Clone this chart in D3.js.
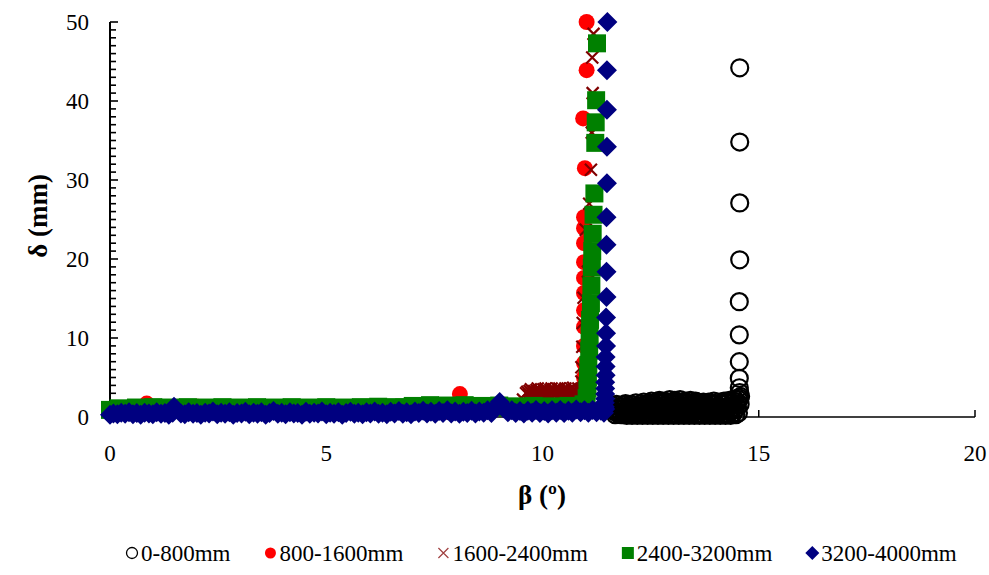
<!DOCTYPE html>
<html><head><meta charset="utf-8">
<script src="https://cdn.jsdelivr.net/npm/d3@7"></script>
<style>
html,body{margin:0;padding:0;background:#fff;}
svg{display:block;}
</style></head>
<body>
<svg id="chart" width="989" height="575"></svg>
<script>
// ---------- data ----------
const seriesNames = ["0-800mm", "800-1600mm", "1600-2400mm", "2400-3200mm", "3200-4000mm"];
const xTicks = [0, 5, 10, 15, 20];
const yTicks = [0, 10, 20, 30, 40, 50];
const xTitle = "β (º)";
const yTitle = "δ (mm)";

// 0-800mm  [β, δ]
const s0_800 = [
 [11.62,0.9],[11.66,0.7],[11.70,1.1],[11.73,0.6],[11.77,0.9],[11.80,0.5],[11.84,1.0],[11.87,0.7],[11.90,1.2],[11.93,0.5],
 [11.96,0.9],[11.99,0.6],[12.02,1.1],[12.05,0.8],[12.08,0.4],[12.11,1.0],[12.14,0.7],[12.17,1.3],[12.20,0.6],[12.23,0.9],
 [12.26,0.5],[12.29,1.2],[12.32,0.8],[12.35,1.5],[12.38,0.6],[12.41,1.0],[12.44,0.4],[12.47,1.3],[12.50,0.9],[12.53,1.6],
 [12.56,0.7],[12.59,1.1],[12.62,0.5],[12.65,1.4],[12.68,0.9],[12.71,1.7],[12.74,0.6],[12.77,1.2],[12.80,0.8],[12.83,1.5],
 [12.86,0.5],[12.89,1.1],[12.92,1.8],[12.95,0.7],[12.98,1.3],[13.01,0.9],[13.04,1.6],[13.07,0.5],[13.10,1.2],[13.13,0.8],
 [13.16,1.9],[13.19,0.6],[13.22,1.4],[13.25,1.0],[13.28,1.7],[13.31,0.5],[13.34,1.2],[13.37,0.8],[13.40,1.5],[13.43,0.6],
 [13.46,1.1],[13.49,1.8],[13.52,0.7],[13.55,1.3],[13.58,0.9],[13.61,1.6],[13.64,0.5],[13.67,1.2],[13.70,0.8],[13.73,1.4],
 [13.76,0.6],[13.79,1.0],[13.82,1.5],[13.85,0.7],[13.88,1.2],[13.91,0.9],[13.94,1.6],[13.97,0.5],[14.00,1.1],[14.03,0.8],
 [14.06,1.4],[14.09,0.6],[14.12,1.2],[14.15,0.9],[14.18,1.7],[14.21,0.7],[14.24,1.3],[14.27,1.0],[14.30,1.8],[14.33,0.8],
 [14.36,1.4],[14.39,1.1],[14.42,2.0],[14.45,0.9],[14.48,1.5],[14.51,1.2],[14.54,2.2],[14.57,1.6],
 [11.64,1.4],[11.68,0.3],[11.71,1.6],[11.75,0.4],[11.79,1.3],[11.82,0.3],[11.86,1.5],[11.89,0.3],[11.92,1.7],[11.95,0.2],
 [11.98,1.4],[12.01,0.3],[12.04,1.6],[12.07,0.2],[12.10,1.5],[12.13,0.3],[12.16,1.8],[12.19,0.2],[12.22,1.4],[12.25,0.3],
 [12.28,1.7],[12.31,0.2],[12.34,1.9],[12.37,0.3],[12.40,1.6],[12.43,0.2],[12.46,1.8],[12.49,0.3],[12.52,2.0],[12.55,0.2],
 [12.58,1.7],[12.61,0.3],[12.64,1.9],[12.67,0.2],[12.70,2.1],[12.73,0.3],[12.76,1.8],[12.79,0.2],[12.82,2.0],[12.85,0.3],
 [12.88,1.7],[12.91,0.2],[12.94,2.2],[12.97,0.3],[13.00,1.9],[13.03,0.2],[13.06,2.1],[13.09,0.3],[13.12,1.8],[13.15,0.2],
 [13.18,2.2],[13.21,0.3],[13.24,1.9],[13.27,0.2],[13.30,2.0],[13.33,0.3],[13.36,1.8],[13.39,0.2],[13.42,2.1],[13.45,0.3],
 [13.48,1.7],[13.51,0.2],[13.54,2.0],[13.57,0.3],[13.60,1.9],[13.63,0.2],[13.66,1.7],[13.69,0.3],[13.72,1.9],[13.75,0.2],
 [13.78,1.6],[13.81,0.3],[13.84,1.9],[13.87,0.2],[13.90,1.7],[13.93,0.3],[13.96,2.0],[13.99,0.2],[14.02,1.6],[14.05,0.3],
 [14.08,1.9],[14.11,0.2],[14.14,1.7],[14.17,0.3],[14.20,2.0],[14.23,0.2],[14.26,1.8],[14.29,0.3],[14.32,2.1],[14.35,0.2],
 [14.38,1.8],[14.41,0.4],[14.44,2.3],[14.47,0.3],[14.50,1.9],[14.53,0.5],[14.56,2.4],
 [14.58,2.6],[14.56,3.1],[14.55,3.7],[14.55,4.9],[14.55,7.0],[14.55,10.4],[14.55,14.6],[14.56,19.9],[14.56,27.1],
 [14.56,34.8],[14.56,44.2]
];
// 800-1600mm
const s800_1600 = [
 [0.00,0.5],[0.40,0.7],[0.85,1.7],[1.30,0.6],[2.03,1.3],[2.60,0.7],[3.20,0.5],[3.92,1.2],[4.50,0.6],[5.10,0.8],
 [5.80,1.2],[6.50,0.7],[7.20,0.9],[7.70,0.6],[8.09,2.9],[8.60,0.8],[9.20,1.0],[9.80,0.9],[10.40,1.1],[10.80,1.3],
 [10.96,2.0],[10.96,3.4],[10.96,5.0],[10.96,6.8],[10.96,9.0],[10.96,11.4],[10.96,13.5],[10.96,15.7],[10.96,17.6],
 [10.96,19.6],[10.96,22.0],[10.96,23.9],[10.96,25.3],[10.98,31.5],[10.94,37.8],[11.02,43.9],[11.02,50.0]
];
// 1600-2400mm
const s1600_2400 = [
 [0.30,0.6],[1.00,0.8],[1.60,0.5],[2.40,0.9],[3.10,0.6],[3.80,0.8],[4.92,1.2],[5.60,0.7],[6.30,0.9],[7.00,0.6],
 [7.80,1.0],[8.50,0.8],[9.10,1.1],[9.55,2.2],[9.62,3.0],[9.70,3.3],[9.78,2.9],[9.86,3.4],[9.94,3.1],[10.02,3.5],
 [10.10,3.0],[10.18,3.4],[10.26,3.2],[10.34,3.6],[10.42,3.1],[10.50,3.4],[10.58,3.3],[10.66,3.6],[10.74,3.2],[10.80,3.0],
 [10.88,3.3],
 [9.65,3.2],[9.68,2.8],[9.73,3.5],[9.75,3.0],[9.81,3.3],[9.83,2.8],[9.89,3.6],[9.91,3.0],[9.97,3.3],[9.99,2.9],
 [10.05,3.2],[10.07,3.6],[10.13,3.3],[10.15,2.8],[10.21,3.6],[10.23,3.0],[10.29,3.4],[10.31,2.9],[10.37,3.2],[10.39,3.6],
 [10.45,3.3],[10.47,2.9],[10.53,3.6],[10.55,3.0],[10.61,3.4],[10.63,2.9],[10.69,3.3],[10.71,3.7],[10.77,3.3],[10.83,3.6],
 [10.90,4.5],[10.90,6.3],[10.92,8.9],[10.93,11.9],[10.95,15.1],[11.05,18.4],[11.00,23.7],[11.08,27.0],
 [11.12,31.3],[11.14,36.0],[11.16,41.0],[11.15,45.5],[11.18,48.5]
];
// 2400-3200mm
const s2400_3200 = [
 [0.00,0.90],[0.20,1.10],[0.40,1.00],[0.60,1.20],[0.80,1.05],[1.00,1.25],[1.20,0.95],[1.40,1.20],[1.60,1.10],[1.80,1.25],
 [2.00,1.00],[2.20,1.20],[2.40,1.10],[2.60,1.25],[2.80,0.95],[3.00,1.20],[3.20,1.10],[3.40,1.25],[3.60,1.00],[3.80,1.20],
 [4.00,1.05],[4.20,1.25],[4.40,1.10],[4.60,1.20],[4.80,0.95],[5.00,1.25],[5.20,1.10],[5.40,1.20],[5.60,1.05],[5.80,1.25],
 [6.00,1.15],[6.20,1.30],[6.40,1.10],[6.60,1.25],[6.80,1.20],[7.00,1.40],[7.20,1.30],[7.40,1.50],[7.60,1.35],[7.80,1.45],
 [8.00,1.30],[8.20,1.50],[8.40,1.25],[8.60,1.40],[8.80,1.30],[9.00,1.45],[9.20,1.20],[9.40,1.35],[9.60,1.25],[9.80,1.40],
 [10.00,1.20],[10.20,1.35],[10.40,1.25],[10.60,1.40],[10.80,1.30],[10.95,1.60],
 [11.02,2.4],[11.04,3.6],[11.05,5.0],[11.06,6.6],[11.08,8.4],[11.09,10.3],[11.10,12.3],[11.12,14.4],[11.13,16.6],
 [11.14,18.9],[11.15,21.0],[11.16,23.2],[11.18,25.6],[11.20,28.3],[11.22,34.7],[11.23,37.3],[11.24,40.1],[11.26,47.3]
];
// 3200-4000mm
const s3200_4000 = [
 [0.00,0.30],[0.08,0.45],[0.17,0.35],[0.26,0.55],[0.35,0.40],[0.44,0.60],[0.53,0.35],[0.62,0.50],[0.71,0.30],[0.80,0.55],
 [0.90,0.45],[0.99,0.35],[1.08,0.60],[1.18,0.40],[1.27,0.50],[1.36,0.30],[1.45,0.55],[1.48,1.30],[1.64,0.45],[1.73,0.35],
 [1.82,0.60],[1.92,0.40],[2.01,0.50],[2.10,0.30],[2.20,0.55],[2.29,0.45],[2.38,0.70],[2.48,0.35],[2.57,0.55],[2.66,0.40],
 [2.76,0.60],[2.85,0.30],[2.94,0.50],[3.04,0.45],[3.13,0.65],[3.22,0.35],[3.32,0.55],[3.41,0.40],[3.50,0.60],[3.60,0.30],
 [3.69,0.50],[3.78,0.75],[3.88,0.40],[3.97,0.55],[4.06,0.35],[4.16,0.60],[4.25,0.45],[4.34,0.50],[4.44,0.30],[4.53,0.65],
 [4.62,0.40],[4.72,0.55],[4.81,0.45],[4.90,0.70],[5.00,0.35],[5.09,0.55],[5.18,0.40],[5.28,0.60],[5.37,0.30],[5.46,0.50],
 [5.56,0.65],[5.65,0.40],[5.74,0.55],[5.84,0.35],[5.93,0.60],[6.02,0.45],[6.12,0.70],[6.21,0.40],[6.30,0.55],[6.40,0.35],
 [6.49,0.65],[6.58,0.45],[6.68,0.75],[6.77,0.40],[6.86,0.60],[6.96,0.35],[7.05,0.70],[7.14,0.50],[7.24,0.80],[7.33,0.45],
 [7.42,0.65],[7.52,0.40],[7.61,0.75],[7.70,0.50],[7.80,0.85],[7.89,0.45],[7.98,0.70],[8.08,0.40],[8.17,0.65],[8.26,0.50],
 [8.36,0.80],[8.45,0.45],[8.54,0.70],[8.64,0.55],[8.73,0.85],[8.82,0.50],[8.92,1.20],[9.01,1.90],[9.10,1.10],[9.20,0.60],
 [9.29,0.85],[9.38,0.50],[9.48,0.75],[9.57,0.45],[9.66,0.80],[9.76,0.55],[9.85,0.90],[9.94,0.50],[10.04,0.75],[10.13,0.45],
 [10.22,0.85],[10.32,0.55],[10.41,0.90],[10.50,0.50],[10.60,0.80],[10.69,0.55],[10.78,0.95],[10.88,0.60],[10.97,0.85],
 [11.06,0.55],[11.16,0.90],[11.25,0.60],[11.35,0.80],[11.42,0.55],[11.45,1.00],
 [11.44,1.3],[11.44,1.8],[11.45,2.3],[11.45,2.9],[11.45,3.6],[11.45,4.4],[11.46,5.3],[11.46,6.4],[11.46,7.6],[11.47,9.0],
 [11.47,10.6],[11.47,12.6],[11.48,15.2],[11.48,18.4],[11.48,21.8],[11.48,25.3],[11.49,29.6],[11.49,34.2],[11.49,38.9],
 [11.49,43.9],[11.50,50.0]
];

const seriesData = [s0_800, s800_1600, s1600_2400, s2400_3200, s3200_4000];
const seriesColors = ["#000000", "#ff0000", "#800000", "#008000", "#000080"];
const seriesShapes = ["ocircle", "circle", "cross", "square", "diamond"];

const FONT = "'Liberation Serif', 'Times New Roman', 'DejaVu Serif', serif";

// ---------- layout ----------
const svg = d3.select("#chart").attr("font-family", FONT);
const x = d3.scaleLinear().domain([0, 20]).range([110, 975]);
const y = d3.scaleLinear().domain([0, 50]).range([417, 22]);

function markerPath(shape, s) {
  const p = d3.path();
  if (shape === "circle" || shape === "ocircle") {
    p.arc(0, 0, s, 0, 2 * Math.PI);
  } else if (shape === "square") {
    p.rect(-s, -s, 2 * s, 2 * s);
  } else if (shape === "diamond") {
    p.moveTo(0, -s); p.lineTo(s, 0); p.lineTo(0, s); p.lineTo(-s, 0); p.closePath();
  } else if (shape === "cross") {
    p.moveTo(-s, -s); p.lineTo(s, s); p.moveTo(-s, s); p.lineTo(s, -s);
  }
  return p.toString();
}
function styleMarker(sel, shape, color) {
  if (shape === "ocircle") sel.attr("fill", "none").attr("stroke", color).attr("stroke-width", 2.2);
  else if (shape === "cross") sel.attr("fill", "none").attr("stroke", color).attr("stroke-width", 2.2);
  else sel.attr("fill", color).attr("stroke", "none");
}
const markerSize = {ocircle: 8.5, circle: 8, cross: 6, square: 9, diamond: 10};

// axes
const axes = svg.append("g");
axes.append("line").attr("x1", x(0)).attr("x2", x(0)).attr("y1", y(0)).attr("y2", y(50))
  .attr("stroke", "#000").attr("stroke-width", 2);
axes.append("line").attr("x1", x(0)).attr("x2", x(20)).attr("y1", y(0)).attr("y2", y(0))
  .attr("stroke", "#000").attr("stroke-width", 1.5);
const yMinor = d3.range(0, 51, 1);
axes.selectAll(".ymin").data(yMinor).enter().append("line")
  .attr("x1", x(0)).attr("x2", d => x(0) + (d % 10 === 0 ? 8 : 6))
  .attr("y1", d => y(d)).attr("y2", d => y(d))
  .attr("stroke", "#000").attr("stroke-width", 1.6);
axes.selectAll(".xt").data(xTicks.slice(1)).enter().append("line")
  .attr("x1", d => x(d)).attr("x2", d => x(d)).attr("y1", y(0)).attr("y2", y(0) - 7)
  .attr("stroke", "#000").attr("stroke-width", 1.5);

// tick labels
svg.append("g").selectAll("text").data(yTicks).enter().append("text")
  .attr("x", 89).attr("y", d => y(d)).attr("dy", "0.35em").attr("text-anchor", "end")
  .attr("font-size", 23).text(d => d);
svg.append("g").selectAll("text").data(xTicks).enter().append("text")
  .attr("x", d => x(d)).attr("y", 453).attr("dy", "0.35em").attr("text-anchor", "middle")
  .attr("font-size", 23).text(d => d);

// titles
svg.append("text").attr("transform", "translate(38,216) rotate(-90)")
  .attr("text-anchor", "middle").attr("dy", "0.35em")
  .attr("font-size", 27).attr("font-weight", "bold").text(yTitle);
svg.append("text").attr("x", 542).attr("y", 495).attr("dy", "0.35em")
  .attr("text-anchor", "middle").attr("font-size", 27).attr("font-weight", "bold").text(xTitle);

// series
seriesData.forEach((data, i) => {
  const shape = seriesShapes[i];
  const g = svg.append("g");
  const sel = g.selectAll("path").data(data).enter().append("path")
    .attr("d", markerPath(shape, markerSize[shape]))
    .attr("transform", d => `translate(${x(d[0])},${y(d[1])})`);
  styleMarker(sel, shape, seriesColors[i]);
});

// legend
const leg = svg.append("g");
let lx = 126;
const ly = 553;
const legSize = {ocircle: 5.5, circle: 5.5, cross: 5, square: 6, diamond: 7};
seriesNames.forEach((name, i) => {
  const shape = seriesShapes[i];
  const m = leg.append("path").attr("d", markerPath(shape, legSize[shape]))
    .attr("transform", `translate(${lx + 6},${ly})`);
  if (shape === "ocircle") m.attr("fill", "none").attr("stroke", "#000").attr("stroke-width", 1.3);
  else if (shape === "cross") m.attr("fill", "none").attr("stroke", "#a04040").attr("stroke-width", 1.2);
  else m.attr("fill", seriesColors[i]);
  const t = leg.append("text").attr("x", lx + 15).attr("y", ly).attr("dy", "0.35em")
    .attr("font-size", 23).text(name);
  const w = t.node().getComputedTextLength();
  lx = lx + 15 + w + 34;
});
</script>
</body></html>
